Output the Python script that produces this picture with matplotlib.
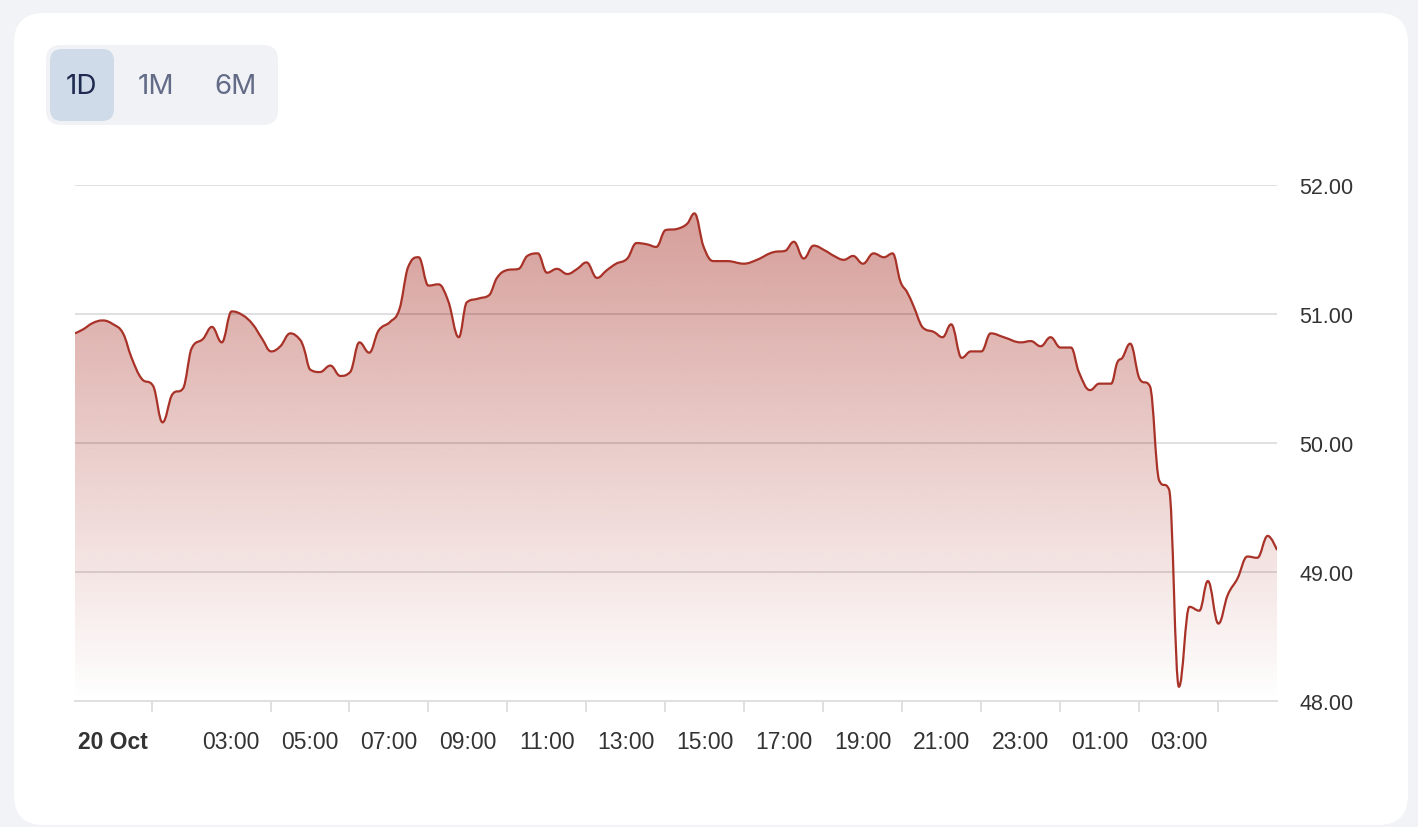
import matplotlib
matplotlib.use('Agg')
import matplotlib.pyplot as plt
import matplotlib.dates as mdates
from matplotlib.patches import FancyBboxPatch, PathPatch
from matplotlib.path import Path
from matplotlib.transforms import IdentityTransform
import numpy as np
import pandas as pd

W, H = 1418, 828

# price readings (15 min-ish steps)
times = [
    "2024-10-19 23:03", "2024-10-19 23:15", "2024-10-19 23:30", "2024-10-19 23:45",
    "2024-10-20 00:01", "2024-10-20 00:16", "2024-10-20 00:29", "2024-10-20 00:44",
    "2024-10-20 01:02", "2024-10-20 01:16", "2024-10-20 01:30", "2024-10-20 01:48",
    "2024-10-20 01:59", "2024-10-20 02:18", "2024-10-20 02:31", "2024-10-20 02:46",
    "2024-10-20 03:01", "2024-10-20 03:18", "2024-10-20 03:33", "2024-10-20 03:47",
    "2024-10-20 04:01", "2024-10-20 04:15", "2024-10-20 04:30", "2024-10-20 04:45",
    "2024-10-20 04:51", "2024-10-20 05:00", "2024-10-20 05:15", "2024-10-20 05:31",
    "2024-10-20 05:46", "2024-10-20 06:01", "2024-10-20 06:15", "2024-10-20 06:30",
    "2024-10-20 06:44", "2024-10-20 07:02", "2024-10-20 07:16", "2024-10-20 07:28",
    "2024-10-20 07:45", "2024-10-20 08:00", "2024-10-20 08:15", "2024-10-20 08:30",
    "2024-10-20 08:46", "2024-10-20 08:58", "2024-10-20 09:16", "2024-10-20 09:33",
    "2024-10-20 09:44", "2024-10-20 09:59", "2024-10-20 10:17", "2024-10-20 10:30",
    "2024-10-20 10:46", "2024-10-20 11:00", "2024-10-20 11:15", "2024-10-20 11:31",
    "2024-10-20 11:46", "2024-10-20 12:00", "2024-10-20 12:16", "2024-10-20 12:31",
    "2024-10-20 12:45", "2024-10-20 13:02", "2024-10-20 13:16", "2024-10-20 13:32",
    "2024-10-20 13:46", "2024-10-20 14:00", "2024-10-20 14:18", "2024-10-20 14:33",
    "2024-10-20 14:44", "2024-10-20 14:58", "2024-10-20 15:13", "2024-10-20 15:34",
    "2024-10-20 15:59", "2024-10-20 16:19", "2024-10-20 16:45", "2024-10-20 17:02",
    "2024-10-20 17:15", "2024-10-20 17:30", "2024-10-20 17:45", "2024-10-20 18:03",
    "2024-10-20 18:16", "2024-10-20 18:31", "2024-10-20 18:45", "2024-10-20 19:00",
    "2024-10-20 19:16", "2024-10-20 19:32", "2024-10-20 19:45", "2024-10-20 19:57",
    "2024-10-20 20:07", "2024-10-20 20:17", "2024-10-20 20:30", "2024-10-20 20:48",
    "2024-10-20 21:01", "2024-10-20 21:14", "2024-10-20 21:30", "2024-10-20 21:44",
    "2024-10-20 22:00", "2024-10-20 22:14", "2024-10-20 22:34", "2024-10-20 23:00",
    "2024-10-20 23:15", "2024-10-20 23:30", "2024-10-20 23:45", "2024-10-21 00:00",
    "2024-10-21 00:16", "2024-10-21 00:28", "2024-10-21 00:45", "2024-10-21 00:59",
    "2024-10-21 01:17", "2024-10-21 01:27", "2024-10-21 01:34", "2024-10-21 01:46",
    "2024-10-21 02:00", "2024-10-21 02:16", "2024-10-21 02:30", "2024-10-21 02:45",
    "2024-10-21 03:00", "2024-10-21 03:16", "2024-10-21 03:31", "2024-10-21 03:44",
    "2024-10-21 04:00", "2024-10-21 04:14", "2024-10-21 04:29", "2024-10-21 04:44",
    "2024-10-21 04:59", "2024-10-21 05:15", "2024-10-21 05:29",
]
prices = [
    50.85, 50.88, 50.93, 50.95,
    50.92, 50.85, 50.66, 50.50,
    50.44, 50.16, 50.37, 50.43,
    50.72, 50.81, 50.90, 50.78,
    51.02, 50.99, 50.92, 50.81,
    50.71, 50.75, 50.85, 50.80,
    50.73, 50.57, 50.55, 50.60,
    50.52, 50.55, 50.78, 50.70,
    50.87, 50.94, 51.04, 51.35,
    51.44, 51.22, 51.23, 51.10,
    50.82, 51.09, 51.12, 51.15,
    51.28, 51.34, 51.35, 51.45,
    51.47, 51.32, 51.35, 51.31,
    51.35, 51.40, 51.28, 51.34,
    51.39, 51.43, 51.55, 51.54,
    51.52, 51.65, 51.66, 51.70,
    51.78, 51.52, 51.41, 51.41,
    51.39, 51.42, 51.48, 51.49,
    51.56, 51.43, 51.53, 51.49,
    51.45, 51.42, 51.45, 51.39,
    51.47, 51.44, 51.47, 51.25,
    51.17, 51.06, 50.90, 50.86,
    50.82, 50.92, 50.66, 50.71,
    50.71, 50.85, 50.82, 50.78,
    50.79, 50.75, 50.82, 50.74,
    50.74, 50.55, 50.41, 50.46,
    50.46, 50.63, 50.66, 50.77,
    50.50, 50.44, 49.71, 49.64,
    48.11, 48.73, 48.70, 48.93,
    48.60, 48.82, 48.95, 49.12,
    49.11, 49.28, 49.17,
]

label_times = ["2024-10-20 00:00", "2024-10-20 03:00", "2024-10-20 05:00", "2024-10-20 07:00",
               "2024-10-20 09:00", "2024-10-20 11:00", "2024-10-20 13:00", "2024-10-20 15:00",
               "2024-10-20 17:00", "2024-10-20 19:00", "2024-10-20 21:00", "2024-10-20 23:00",
               "2024-10-21 01:00", "2024-10-21 03:00"]
label_texts = ["20 Oct", "03:00", "05:00", "07:00", "09:00", "11:00", "13:00", "15:00",
               "17:00", "19:00", "21:00", "23:00", "01:00", "03:00"]
tick_times = ["2024-10-20 01:00", "2024-10-20 04:00", "2024-10-20 06:00", "2024-10-20 08:00",
              "2024-10-20 10:00", "2024-10-20 12:00", "2024-10-20 14:00", "2024-10-20 16:00",
              "2024-10-20 18:00", "2024-10-20 20:00", "2024-10-20 22:00", "2024-10-21 00:00",
              "2024-10-21 02:00", "2024-10-21 04:00"]
y_ticks = [48, 49, 50, 51, 52]
buttons = ["1D", "1M", "6M"]

line_color = '#a83228'

fig = plt.figure(figsize=(W / 100, H / 100), dpi=100, facecolor='#f2f3f7')


def box(x, y, w, h, r, color, z):
    # pixel coords, top-left origin
    p = FancyBboxPatch((x, H - y - h), w, h, boxstyle=f'round,pad=0,rounding_size={r}',
                       facecolor=color, edgecolor='none', transform=IdentityTransform(), zorder=z)
    fig.add_artist(p)


def spline_path(x, y, base=None):
    # bezier path through the points, same idea as a highcharts "spline" series
    n = len(x)
    lc = np.zeros((n, 2))
    rc = np.zeros((n, 2))
    for i in range(n):
        lc[i] = rc[i] = (x[i], y[i])
        if 0 < i < n - 1:
            s, d = 1.5, 2.5
            lx, ly = (s * x[i] + x[i - 1]) / d, (s * y[i] + y[i - 1]) / d
            rx, ry = (s * x[i] + x[i + 1]) / d, (s * y[i] + y[i + 1]) / d
            if rx != lx:
                corr = (ry - ly) * (rx - x[i]) / (rx - lx) + y[i] - ry
                ly += corr
                ry += corr
            if ly > y[i - 1] and ly > y[i]:
                ly = max(y[i - 1], y[i]); ry = 2 * y[i] - ly
            elif ly < y[i - 1] and ly < y[i]:
                ly = min(y[i - 1], y[i]); ry = 2 * y[i] - ly
            if ry > y[i + 1] and ry > y[i]:
                ry = max(y[i + 1], y[i]); ly = 2 * y[i] - ry
            elif ry < y[i + 1] and ry < y[i]:
                ry = min(y[i + 1], y[i]); ly = 2 * y[i] - ry
            lc[i] = (lx, ly)
            rc[i] = (rx, ry)
    verts = [(x[0], y[0])]
    codes = [Path.MOVETO]
    for i in range(1, n):
        verts += [tuple(rc[i - 1]), tuple(lc[i]), (x[i], y[i])]
        codes += [Path.CURVE4] * 3
    if base is not None:
        verts += [(x[-1], base), (x[0], base), (x[0], y[0])]
        codes += [Path.LINETO, Path.LINETO, Path.CLOSEPOLY]
    return Path(verts, codes)


# white card + range selector
box(14, 14, 1394, 812, 30, 'white', -10)
box(46, 46, 232, 80, 15, '#f0f2f6', -9)
box(50, 50, 64, 72, 12, '#cfdbe8', -8)
btn_x = [81, 156, 236]
for i, b in enumerate(buttons):
    fig.text(btn_x[i] / W, 1 - 87 / H, b, ha='center', va='center', fontsize=20,
             family=['Inter', 'DejaVu Sans'], color='#1e2a4f' if i == 0 else '#636b87')

ax = fig.add_axes([75 / W, 126 / H, 1202 / W, 516 / H])
ax.patch.set_alpha(0)

xs = mdates.date2num(pd.to_datetime(times))
ys = np.array(prices)

# gradient area under the line
rgb = matplotlib.colors.to_rgb(line_color)
grad = np.zeros((256, 1, 4))
grad[..., :3] = rgb
grad[:, 0, 3] = np.linspace(0.5, 0.0, 256)
im = ax.imshow(grad, extent=[xs[0], xs[-1], 48, 52], aspect='auto', origin='upper',
               interpolation='bilinear', zorder=1)
im.set_clip_path(spline_path(xs, ys, base=48), transform=ax.transData)

for v in y_ticks[1:]:
    ax.axhline(v, color='black', alpha=0.12, lw=1.44, zorder=2)

ax.add_patch(PathPatch(spline_path(xs, ys), facecolor='none', edgecolor=line_color,
                       lw=1.6, zorder=3, joinstyle='round'))

ax.set_xlim(xs[0], xs[-1])
ax.set_ylim(48, 52)

for s in ['top', 'left', 'right']:
    ax.spines[s].set_visible(False)
ax.spines['bottom'].set_color('#e0e0e0')
ax.spines['bottom'].set_linewidth(1.44)

ax.yaxis.tick_right()
ax.set_yticks(y_ticks)
ax.set_yticklabels([f"{v:.2f}" for v in y_ticks])
ax.tick_params(axis='y', length=0, pad=16, labelsize=15.5, labelcolor='#333333')
for t in ax.get_yticklabels():
    t.set_family('Liberation Sans')

ax.set_xticks(mdates.date2num(pd.to_datetime(label_times)))
ax.set_xticklabels(label_texts)
ax.set_xticks(mdates.date2num(pd.to_datetime(tick_times)), minor=True)
ax.tick_params(axis='x', which='major', length=0, pad=21, labelsize=16.5, labelcolor='#333333')
ax.tick_params(axis='x', which='minor', length=8, width=1.44, color='#e0e0e0')
for t in ax.get_xticklabels():
    t.set_family('Liberation Sans')
ax.get_xticklabels()[0].set_fontweight('bold')

fig.savefig('out.png', dpi=100, facecolor=fig.get_facecolor())
